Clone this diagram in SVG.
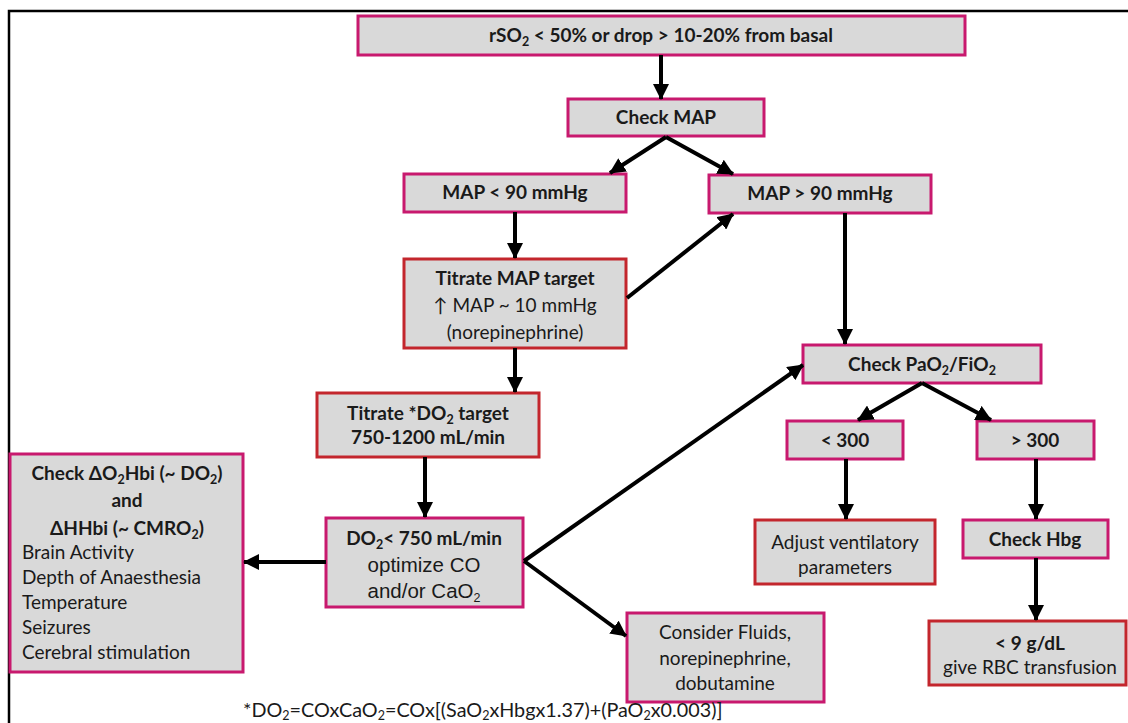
<svg xmlns="http://www.w3.org/2000/svg" width="1128" height="723" viewBox="0 0 1128 723">
<defs>
<marker id="ah" markerUnits="userSpaceOnUse" markerWidth="16" markerHeight="16" viewBox="0 0 16 16" refX="15" refY="8" orient="auto">
<path d="M0,0 L16,8 L0,16 z" fill="#000"/>
</marker>
<style>
.bm{fill:#d9d9d9;stroke:#c8196e;stroke-width:3}
.br{fill:#d9d9d9;stroke:#c3262d;stroke-width:3}
text{font-family:Lato,"Open Sans","Liberation Sans",sans-serif;font-size:19px;fill:#1a1a1a;text-anchor:middle}
.b{font-weight:bold}
.l{text-anchor:start}
.a{font-family:"Liberation Sans",Arial,sans-serif;font-size:20.5px}
.s{font-size:12.5px}
.fn{font-size:19.8px}
#conn line{stroke:#000;stroke-width:4;marker-end:url(#ah)}
</style>
</defs>
<rect width="1128" height="723" fill="#fff"/>
<g id="frame" stroke="#000" stroke-width="2.5" fill="none">
<path d="M9,723 V11 H1128"/>
</g>
<g id="n1"><rect class="bm" x="358" y="16" width="607" height="39"/>
<text class="b" x="661" y="42">rSO<tspan class="s" dy="4">2</tspan><tspan dy="-4"> &lt; 50% or drop &gt; 10-20% from basal</tspan></text></g>
<g id="n2"><rect class="bm" x="568" y="99" width="196" height="37"/>
<text class="b" x="666" y="124">Check MAP</text></g>
<g id="n3"><rect class="bm" x="404" y="174" width="222" height="38"/>
<text class="b" x="515" y="199">MAP &lt; 90 mmHg</text></g>
<g id="n4"><rect class="bm" x="709" y="175" width="222" height="38"/>
<text class="b" x="820" y="200">MAP &gt; 90 mmHg</text></g>
<g id="n5"><rect class="br" x="404" y="259" width="222" height="89"/>
<text class="b" x="515" y="285">Titrate MAP target</text>
<text x="515" y="312">↑ MAP ~ 10 mmHg</text>
<text x="515" y="339">(norepinephrine)</text></g>
<g id="n6"><rect class="br" x="317" y="393" width="222" height="64"/>
<text class="b" x="428" y="420">Titrate *DO<tspan class="s" dy="4">2</tspan><tspan dy="-4"> target</tspan></text>
<text class="b" x="428" y="444">750-1200 mL/min</text></g>
<g id="n7"><rect class="bm" x="326" y="518" width="197" height="89"/>
<text class="b" x="424" y="545">DO<tspan class="s" dy="4">2</tspan><tspan dy="-4">&lt; 750 mL/min</tspan></text>
<text class="a" x="424" y="572">optimize CO</text>
<text class="a" x="424" y="598">and/or CaO<tspan class="s" dy="4">2</tspan></text></g>
<g id="n8"><rect class="bm" x="10" y="454" width="233" height="218"/>
<text class="b" x="127" y="480">Check ΔO<tspan class="s" dy="4">2</tspan><tspan dy="-4">Hbi (~ DO</tspan><tspan class="s" dy="4">2</tspan><tspan dy="-4">)</tspan></text>
<text class="b" x="127" y="507">and</text>
<text class="b" x="127" y="535">ΔHHbi (~ CMRO<tspan class="s" dy="4">2</tspan><tspan dy="-4">)</tspan></text>
<text class="l" x="22" y="559">Brain Activity</text>
<text class="l" x="22" y="584">Depth of Anaesthesia</text>
<text class="l" x="22" y="609">Temperature</text>
<text class="l" x="22" y="634">Seizures</text>
<text class="l" x="22" y="659">Cerebral stimulation</text></g>
<g id="n9"><rect class="bm" x="627" y="613" width="197" height="89"/>
<text x="725" y="639">Consider Fluids,</text>
<text x="725" y="665">norepinephrine,</text>
<text x="725" y="690">dobutamine</text></g>
<g id="n10"><rect class="bm" x="803" y="345" width="238" height="38"/>
<text class="b" x="922" y="371">Check PaO<tspan class="s" dy="4">2</tspan><tspan dy="-4">/FiO</tspan><tspan class="s" dy="4">2</tspan></text></g>
<g id="n11"><rect class="bm" x="787" y="421" width="116" height="38"/>
<text class="b" x="845" y="447">&lt; 300</text></g>
<g id="n12"><rect class="bm" x="977" y="421" width="117" height="38"/>
<text class="b" x="1035" y="447">&gt; 300</text></g>
<g id="n13"><rect class="br" x="755" y="520" width="180" height="64"/>
<text x="845" y="549">Adjust ventilatory</text>
<text x="845" y="574">parameters</text></g>
<g id="n14"><rect class="bm" x="963" y="520" width="145" height="38"/>
<text class="b" x="1035" y="546">Check Hbg</text></g>
<g id="n15"><rect class="br" x="929" y="621" width="197" height="64"/>
<text class="b" x="1030" y="650">&lt; 9 g/dL</text>
<text x="1030" y="674">give RBC transfusion</text></g>
<g id="note"><text class="l fn" x="243" y="717">*DO<tspan class="s" dy="3">2</tspan><tspan dy="-3">=COxCaO</tspan><tspan class="s" dy="3">2</tspan><tspan dy="-3">=COx[(SaO</tspan><tspan class="s" dy="3">2</tspan><tspan dy="-3">xHbgx1.37)+(PaO</tspan><tspan class="s" dy="3">2</tspan><tspan dy="-3">x0.003)]</tspan></text></g>
<g id="conn">
<line x1="661" y1="55" x2="661" y2="99"/>
<line x1="666" y1="137" x2="610" y2="173"/>
<line x1="666" y1="137" x2="733" y2="174"/>
<line x1="515" y1="212" x2="515" y2="258"/>
<line x1="627" y1="298" x2="733" y2="214"/>
<line x1="845" y1="213" x2="845" y2="344"/>
<line x1="515" y1="348" x2="515" y2="392"/>
<line x1="425" y1="457" x2="425" y2="517"/>
<line x1="326" y1="562" x2="244" y2="562"/>
<line x1="524" y1="561" x2="803" y2="365"/>
<line x1="524" y1="561" x2="626" y2="636"/>
<line x1="922" y1="383" x2="858" y2="420"/>
<line x1="922" y1="383" x2="991" y2="420"/>
<line x1="846" y1="459" x2="846" y2="519"/>
<line x1="1036" y1="459" x2="1036" y2="519"/>
<line x1="1036" y1="558" x2="1036" y2="620"/>
</g>
</svg>
